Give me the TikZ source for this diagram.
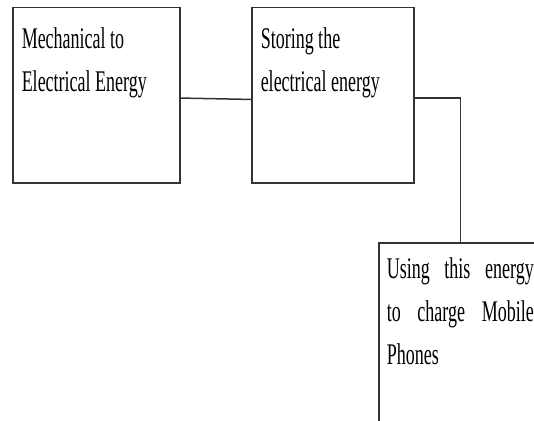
\documentclass[tikz,border=0pt]{standalone}
\usepackage{fontspec}
\setmainfont{Liberation Serif}[FakeStretch=0.6]
\usepackage{tikz}
\usetikzlibrary{calc}

\begin{document}
\begin{tikzpicture}[x=1pt, y=1pt,
    box/.style={draw=black!80, line width=1.5pt, anchor=north west, inner xsep=9pt,
      font=\fontsize{30}{43}\selectfont},
    link/.style={draw=black!80, line width=1.5pt}]
                \useasboundingbox (0,0) rectangle (534,-420);
                \clip (0,0) rectangle (534,-420);
                \node[box, inner ysep=20pt] (mech) at (12,-7)
                  {\parbox[t][135pt][t]{149pt}{\raggedright Mechanical to\\Electrical Energy}};
                \node[box, inner ysep=20pt] (store) at (251,-7)
                  {\parbox[t][135pt][t]{144pt}{\raggedright Storing the\\electrical energy}};
                \node[box, inner xsep=8pt, inner ysep=15pt] (use) at (378,-242)
                  {\parbox[t][200pt][t]{147pt}{Using this energy\linebreak to charge Mobile\linebreak Phones}};
                \draw[link] ($(mech.east)+(0,-2.8)$) -- ($(store.west)+(0,-4.2)$);
                \draw[link] ($(store.east)+(0,-2.5)$) -| (use.north);
            \end{tikzpicture}
\end{document}
